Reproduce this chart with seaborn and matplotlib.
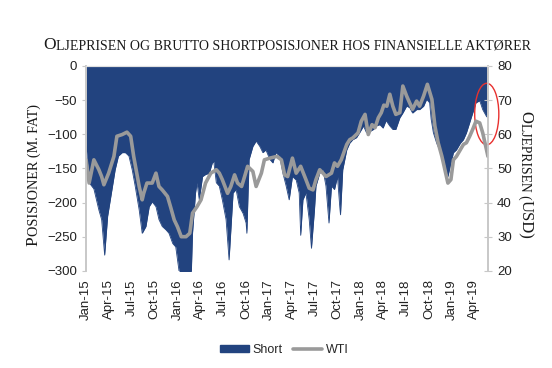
import pandas as pd
import seaborn as sb
import matplotlib.pyplot as plt
import matplotlib.dates as mdates
from matplotlib.patches import Ellipse, Patch
from matplotlib.lines import Line2D

# gross short positions, million barrels
short_dates = [
    "2015-01-01", "2015-01-13", "2015-02-01", "2015-02-21", "2015-03-04", "2015-03-16", "2015-03-28",
    "2015-04-12", "2015-04-27", "2015-05-10", "2015-05-25", "2015-06-07", "2015-06-21", "2015-07-04",
    "2015-07-16", "2015-08-01", "2015-08-13", "2015-08-28", "2015-09-10", "2015-09-22", "2015-10-07",
    "2015-10-19", "2015-11-01", "2015-11-16", "2015-11-28", "2015-12-13", "2015-12-25", "2016-01-07",
    "2016-01-19", "2016-02-01", "2016-02-13", "2016-02-25", "2016-03-01", "2016-03-13", "2016-03-19",
    "2016-03-28", "2016-04-10", "2016-04-22", "2016-05-07", "2016-05-19", "2016-05-25", "2016-06-04",
    "2016-06-16", "2016-06-28", "2016-07-13", "2016-07-25", "2016-08-10", "2016-08-22", "2016-09-04",
    "2016-09-19", "2016-10-01", "2016-10-04", "2016-10-13", "2016-10-28", "2016-11-10", "2016-11-25",
    "2016-12-07", "2016-12-19", "2017-01-04", "2017-01-16", "2017-01-28", "2017-02-12", "2017-02-25",
    "2017-03-10", "2017-03-22", "2017-04-04", "2017-04-19", "2017-05-01", "2017-05-07", "2017-05-16",
    "2017-05-28", "2017-06-10", "2017-06-19", "2017-07-01", "2017-07-07", "2017-07-22", "2017-08-04",
    "2017-08-16", "2017-08-28", "2017-09-07", "2017-09-19", "2017-10-01", "2017-10-10", "2017-10-13",
    "2017-10-22", "2017-11-07", "2017-11-19", "2017-12-01", "2017-12-16", "2017-12-28", "2018-01-13",
    "2018-01-25", "2018-02-07", "2018-02-22", "2018-03-04", "2018-03-19", "2018-04-01", "2018-04-13",
    "2018-04-28", "2018-05-10", "2018-05-22", "2018-06-07", "2018-06-19", "2018-07-04", "2018-07-16",
    "2018-07-28", "2018-08-13", "2018-08-25", "2018-09-10", "2018-09-22", "2018-10-04", "2018-10-10",
    "2018-10-19", "2018-11-01", "2018-11-13", "2018-11-28", "2018-12-10", "2018-12-16", "2018-12-25",
    "2019-01-07", "2019-01-19", "2019-02-04", "2019-02-16", "2019-02-28", "2019-03-13", "2019-03-25",
    "2019-04-07", "2019-04-22", "2019-05-04", "2019-05-19", "2019-05-25",
]
short_values = [
    -118, -171, -180, -211, -225, -277, -220,
    -186, -152, -132, -127, -127, -132, -152,
    -176, -211, -245, -235, -206, -199, -206,
    -225, -235, -240, -245, -260, -265, -300,
    -315, -320, -315, -305, -245, -186, -171,
    -196, -162, -159, -157, -142, -140, -171,
    -176, -196, -225, -284, -186, -181, -206,
    -216, -230, -245, -137, -118, -110, -118,
    -127, -123, -137, -142, -127, -132, -157,
    -176, -196, -162, -167, -186, -248, -196,
    -186, -225, -267, -211, -176, -157, -152,
    -176, -230, -176, -181, -162, -206, -218,
    -152, -123, -113, -108, -105, -98, -88,
    -98, -96, -93, -88, -86, -91, -80,
    -88, -93, -93, -76, -69, -59, -61,
    -69, -64, -64, -59, -49, -54, -78,
    -98, -113, -123, -137, -157, -162, -147,
    -127, -123, -113, -108, -98, -83, -69,
    -54, -51, -64, -74, -76,
]

# WTI oil price, USD per barrel
wti_dates = [
    "2015-01-01", "2015-01-13", "2015-02-01", "2015-02-21", "2015-03-04", "2015-03-13", "2015-04-01",
    "2015-04-22", "2015-05-04", "2015-05-25", "2015-06-13", "2015-06-28", "2015-07-10", "2015-08-01",
    "2015-08-13", "2015-08-19", "2015-09-01", "2015-09-22", "2015-10-07", "2015-10-19", "2015-11-01",
    "2015-11-22", "2015-12-04", "2015-12-19", "2016-01-01", "2016-01-16", "2016-02-04", "2016-02-19",
    "2016-03-01", "2016-03-19", "2016-04-04", "2016-04-22", "2016-05-13", "2016-06-04", "2016-06-16",
    "2016-06-28", "2016-07-19", "2016-08-01", "2016-08-16", "2016-08-28", "2016-09-13", "2016-09-25",
    "2016-10-07", "2016-10-28", "2016-11-10", "2016-12-01", "2016-12-13", "2017-01-04", "2017-02-01",
    "2017-02-19", "2017-03-04", "2017-03-16", "2017-04-04", "2017-04-19", "2017-05-07", "2017-05-28",
    "2017-06-10", "2017-06-25", "2017-07-07", "2017-07-22", "2017-08-04", "2017-08-16", "2017-09-07",
    "2017-09-19", "2017-10-01", "2017-10-16", "2017-11-07", "2017-11-19", "2017-12-01", "2017-12-22",
    "2018-01-04", "2018-01-19", "2018-02-01", "2018-02-16", "2018-02-28", "2018-03-13", "2018-03-25",
    "2018-04-04", "2018-04-16", "2018-04-28", "2018-05-10", "2018-05-22", "2018-06-07", "2018-06-19",
    "2018-07-04", "2018-07-16", "2018-07-28", "2018-08-13", "2018-08-25", "2018-09-10", "2018-09-25",
    "2018-10-13", "2018-10-25", "2018-11-07", "2018-11-22", "2018-12-04", "2018-12-16", "2018-12-28",
    "2019-01-07", "2019-01-19", "2019-02-04", "2019-02-16", "2019-02-28", "2019-03-13", "2019-03-25",
    "2019-04-07", "2019-04-22", "2019-05-04", "2019-05-19", "2019-05-25",
]
wti_values = [
    52.5, 45.7, 52.5, 49.6, 47.6, 45.2, 48.6,
    53.5, 59.4, 59.9, 60.6, 59.4, 53.5, 44.7,
    40.8, 42.7, 45.7, 45.7, 48.6, 44.7, 43.7,
    41.8, 38.8, 34.9, 32.9, 30.0, 30.0, 31.0,
    36.9, 38.8, 40.8, 45.7, 48.6, 49.6, 48.6,
    46.7, 42.7, 44.7, 48.1, 45.7, 44.7, 47.6,
    50.6, 49.1, 44.7, 48.6, 52.5, 53.0, 53.5,
    52.5, 48.1, 47.6, 53.0, 48.6, 50.6, 46.7,
    44.2, 43.7, 46.7, 49.6, 48.6, 47.6, 48.6,
    51.6, 50.6, 52.5, 57.0, 58.4, 58.9, 60.4,
    63.8, 65.8, 59.9, 62.8, 61.9, 64.8, 66.3,
    68.5, 68.2, 71.7, 68.2, 65.8, 66.3, 74.1,
    71.2, 69.2, 67.3, 69.7, 68.2, 71.2, 74.6,
    70.2, 62.4, 57.5, 53.5, 49.6, 45.7, 46.7,
    52.5, 53.5, 55.5, 57.0, 57.5, 59.4, 61.4,
    63.8, 63.3, 60.4, 55.5, 53.5,
]

quarter_ticks = ["2015-01-01", "2015-04-01", "2015-07-01", "2015-10-01",
                 "2016-01-01", "2016-04-01", "2016-07-01", "2016-10-01",
                 "2017-01-01", "2017-04-01", "2017-07-01", "2017-10-01",
                 "2018-01-01", "2018-04-01", "2018-07-01", "2018-10-01",
                 "2019-01-01", "2019-04-01"]

short = pd.DataFrame({'Date': pd.to_datetime(short_dates), 'Short': short_values})
wti = pd.DataFrame({'Date': pd.to_datetime(wti_dates), 'WTI': wti_values})

blue = "#22437f"
grey = "#9a9a9a"
axis_grey = "#c8c8c8"
serif = ['Liberation Serif', 'DejaVu Serif']

sb.set_style("white")
plt.rcParams['font.family'] = ['Liberation Sans', 'DejaVu Sans']

fig = plt.figure(figsize=(5.52, 3.68), dpi=100)
ax = fig.add_axes([0.156, 0.264, 0.728, 0.557])

# short positions: filled from the zero line (top) down to the value
ax.fill_between(short['Date'], short['Short'], 0, color=blue, linewidth=0)
sb.lineplot(data=short, x='Date', y='Short', ax=ax, color=blue, linewidth=0.6)
ax.set_ylim(-300, 0)
ax.set_yticks(range(-300, 1, 50))
ax.set_xlim(pd.Timestamp(short_dates[0]), pd.Timestamp(short_dates[-1]))
ax.set_xlabel("")
ax.set_ylabel("")

ax2 = ax.twinx()
sb.lineplot(data=wti, x='Date', y='WTI', ax=ax2, color=grey, linewidth=2.6)
ax2.set_ylim(20, 80)
ax2.set_yticks(range(20, 81, 10))
ax2.set_ylabel("")
ax2.set_xlabel("")

ax.set_xticks(pd.to_datetime(quarter_ticks))
ax.xaxis.set_major_formatter(mdates.DateFormatter("%b-%y"))
ax.tick_params(axis='x', rotation=90, labelsize=9.5, length=0, colors="#222222", pad=6)
ax.tick_params(axis='y', labelsize=9.5, direction='out', length=3, color=axis_grey,
               labelcolor="#222222", left=True)
ax2.tick_params(axis='y', labelsize=9.5, direction='inout', length=6, color=axis_grey,
                labelcolor="#222222", right=True)

for a in (ax, ax2):
    a.spines['bottom'].set_visible(False)
    a.spines['top'].set_color("#e0e0e0")
    a.spines['left'].set_color(axis_grey)
    a.spines['right'].set_color(axis_grey)
    a.spines['left'].set_linewidth(1.2)
    a.spines['right'].set_linewidth(1.2)

# red ring marking the latest drop in short positions
ax2.add_patch(Ellipse((0.997, 0.765), 0.06, 0.30, transform=ax2.transAxes,
                      fill=False, edgecolor="#e8312f", linewidth=1.0, clip_on=False))


def small_caps(x, y, s, big, small, rotation=0):
    # split into runs: capitals at full size, lower case as smaller capitals
    runs = []
    for ch in s:
        if ch.isalpha():
            size = big if ch.isupper() else small
        else:
            size = runs[-1][1] if runs else big
        if runs and runs[-1][1] == size:
            runs[-1][0] += ch.upper()
        else:
            runs.append([ch.upper(), size])
    renderer = fig.canvas.get_renderer()
    texts, widths = [], []
    for txt, size in runs:
        t = fig.text(0, 0, txt, fontsize=size, family=serif, color="#1a1a1a",
                     ha='left', va='baseline', rotation_mode='anchor')
        widths.append(t.get_window_extent(renderer).width)
        t.set_rotation(rotation)
        texts.append(t)
    W, H = fig.bbox.width, fig.bbox.height
    pos = -sum(widths) / 2
    for t, w in zip(texts, widths):
        if rotation == 90:
            t.set_position((x, y + pos / H))
        elif rotation == 270:
            t.set_position((x, y - pos / H))
        else:
            t.set_position((x + pos / W, y))
        pos += w


small_caps(0.52, 0.866, "Oljeprisen og brutto shortposisjoner hos finansielle aktører", 12.5, 10.0)
small_caps(0.068, 0.525, "Posisjoner (m. fat)", 12.5, 10.2, rotation=90)
small_caps(0.944, 0.525, "Oljeprisen (USD)", 12.0, 9.8, rotation=270)

handles = [Patch(facecolor=blue, edgecolor=blue),
           Line2D([0], [0], color=grey, linewidth=2.6)]
fig.legend(handles, ["Short", "WTI"], loc='center', bbox_to_anchor=(0.515, 0.05),
           ncol=2, frameon=False, fontsize=9, handlelength=2.3, handleheight=0.45,
           columnspacing=0.8, handletextpad=0.3)

fig.savefig("out.png", dpi=100)
